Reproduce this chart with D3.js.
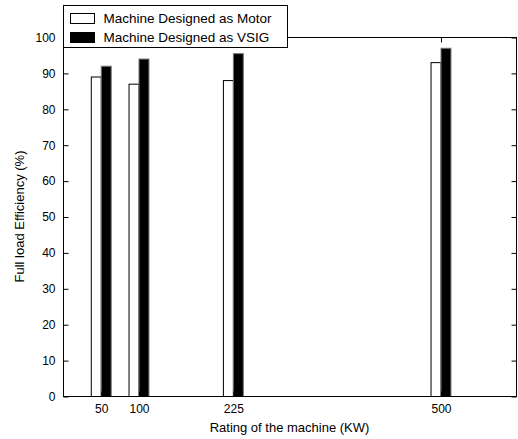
<!DOCTYPE html>
<html>
<head>
<meta charset="utf-8">
<script src="https://cdn.jsdelivr.net/npm/d3@7"></script>
<style>
  body { margin: 0; background: #fff; }
  svg { display: block; font-family: Arial, 'Liberation Sans', Helvetica, sans-serif; }
</style>
</head>
<body>
<svg id="chart" width="518" height="439"></svg>
<script>
// ratings (kW) and full load efficiency (%)
const ratings = [50, 100, 225, 500];
const motorEff = [89, 87, 88, 93];
const vsigEff = [92, 94, 95.5, 97];
const yTicks = [0, 10, 20, 30, 40, 50, 60, 70, 80, 90, 100];
const seriesNames = ['Machine Designed as Motor', 'Machine Designed as VSIG'];

const style = {
  fontSize: '12px',
  labelSize: '13px',
  legendSize: '13.5px',
  tickLen: 5,
  barWidth: 13.2, // data units
  motorFill: '#fff',
  vsigFill: '#000'
};

const svg = d3.select('#chart');
const margin = { left: 63, right: 2, top: 37, bottom: 43 };
const w = +svg.attr('width'), h = +svg.attr('height');

const xScale = d3.scaleLinear().domain([0, 600]).range([margin.left, w - margin.right]);
const yScale = d3.scaleLinear().domain([0, 100]).range([h - margin.bottom, margin.top]);

const x0 = margin.left, x1 = w - margin.right;
const y0 = h - margin.bottom, y1 = margin.top;

const main = svg.append('g').attr('class', 'main');

// bars
const bars = main.append('g').attr('class', 'bars');
bars.selectAll('rect.motor')
  .data(ratings)
  .enter().append('rect')
    .attr('class', 'motor')
    .attr('x', d => xScale(d - style.barWidth) + 0.5)
    .attr('y', (d, i) => yScale(motorEff[i]) + 0.5)
    .attr('width', (d, i) => xScale(d) - xScale(d - style.barWidth))
    .attr('height', (d, i) => yScale(0) - yScale(motorEff[i]))
    .attr('fill', style.motorFill)
    .attr('stroke', '#000')
    .attr('stroke-width', 1);

bars.selectAll('rect.vsig')
  .data(ratings)
  .enter().append('rect')
    .attr('class', 'vsig')
    .attr('x', d => xScale(d) + 0.5)
    .attr('y', (d, i) => yScale(vsigEff[i]) + 0.5)
    .attr('width', d => xScale(d + style.barWidth) - xScale(d))
    .attr('height', (d, i) => yScale(0) - yScale(vsigEff[i]))
    .attr('fill', style.vsigFill)
    .attr('stroke', '#777')
    .attr('stroke-width', 1);

// axes box
main.append('rect')
  .attr('x', x0 + 0.5).attr('y', y1 + 0.5)
  .attr('width', x1 - x0).attr('height', y0 - y1)
  .attr('fill', 'none').attr('stroke', '#000').attr('stroke-width', 1);

// y axis (ticks inside, mirrored on right)
const yAxis = d3.axisLeft(yScale).tickValues(yTicks).tickSize(-style.tickLen).tickPadding(8);
const yAxisSel = main.append('g').attr('transform', `translate(${x0 + 0.5},0.5)`).call(yAxis);
const yAxisR = d3.axisRight(yScale).tickValues(yTicks).tickSize(-style.tickLen).tickFormat('');
const yAxisRSel = main.append('g').attr('transform', `translate(${x1 + 0.5},0.5)`).call(yAxisR);

// x axis
const xAxis = d3.axisBottom(xScale).tickValues(ratings).tickSize(-style.tickLen).tickPadding(10);
const xAxisSel = main.append('g').attr('transform', `translate(0.5,${y0 + 0.5})`).call(xAxis);
const xAxisT = d3.axisTop(xScale).tickValues(ratings).tickSize(-style.tickLen).tickFormat('');
const xAxisTSel = main.append('g').attr('transform', `translate(0.5,${y1 + 0.5})`).call(xAxisT);

[yAxisSel, yAxisRSel, xAxisSel, xAxisTSel].forEach(s => {
  s.select('.domain').remove();
  s.selectAll('.tick line').attr('stroke', '#000');
  s.selectAll('.tick text')
    .attr('fill', '#000')
    .style('font-size', style.fontSize)
    .style('font-family', 'Arial, Liberation Sans, sans-serif');
});
xAxisSel.selectAll('.tick text').attr('dy', '0.5em');

// axis labels
main.append('text')
  .attr('x', (x0 + x1) / 2)
  .attr('y', 432)
  .attr('text-anchor', 'middle')
  .style('font-size', style.labelSize)
  .text('Rating of the machine (KW)');

main.append('text')
  .attr('transform', `translate(24,${(y0 + y1) / 2}) rotate(-90)`)
  .attr('text-anchor', 'middle')
  .style('font-size', style.labelSize)
  .text('Full load Efficiency (%)');

// legend
const legend = main.append('g').attr('transform', 'translate(63.5,5.5)');
legend.append('rect')
  .attr('width', 224).attr('height', 42)
  .attr('fill', '#fff').attr('stroke', '#000');

const legendItems = legend.selectAll('g.item')
  .data(seriesNames)
  .enter().append('g')
    .attr('class', 'item')
    .attr('transform', (d, i) => `translate(7,${8 + i * 19})`);

legendItems.append('rect')
  .attr('width', 24).attr('height', 10)
  .attr('fill', (d, i) => i === 0 ? style.motorFill : style.vsigFill)
  .attr('stroke', '#000');

legendItems.append('text')
  .attr('x', 33)
  .attr('y', 5)
  .attr('dy', '0.35em')
  .style('font-size', style.legendSize)
  .text(d => d);
</script>
</body>
</html>
